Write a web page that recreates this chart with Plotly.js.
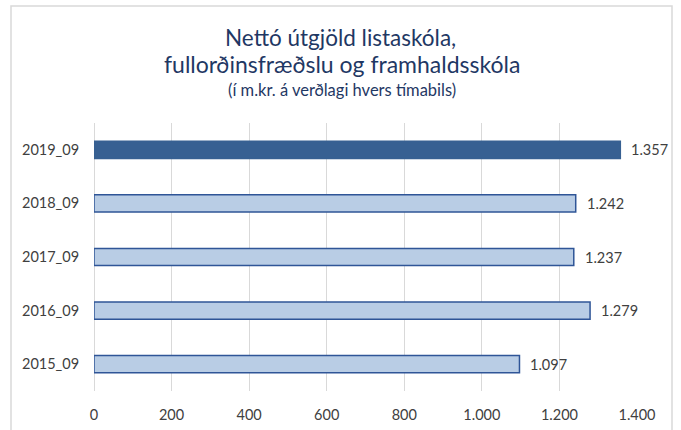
<!DOCTYPE html>
<html><head><meta charset="utf-8">
<script src="https://cdn.plot.ly/plotly-3.0.1.min.js"></script>
<style>html,body{margin:0;padding:0;background:#fff}#chart{width:681px;height:430px}</style>
</head><body><div id="chart"></div>
<script>
const categories = ["2015_09", "2016_09", "2017_09", "2018_09", "2019_09"];
const values = [1097, 1279, 1237, 1242, 1357];
const xTickVals = [0, 200, 400, 600, 800, 1000, 1200, 1400];
const titleLine1 = "Nettó útgjöld listaskóla,";
const titleLine2 = "fullorðinsfræðslu og framhaldsskóla";
const subtitle = "(í m.kr. á verðlagi hvers tímabils)";

const fills = categories.map((c, i) => i === categories.length - 1 ? "#376092" : "#b9cde5");
const lines = categories.map((c, i) => i === categories.length - 1 ? "#376092" : "#2f5597");

const L = 94, R = 44, T = 123, B = 39, W = 681, H = 430;
const pw = W - L - R, ph = H - T - B;
const px = x => (x - L) / pw;
const py = y => (H - B - y) / ph;
const font = "Lato, 'Open Sans', sans-serif";
const fmt = v => v.toLocaleString("de-DE");

const labelAnn = categories.map((c, i) => ({
  x: values[i], y: c, xref: "x", yref: "y", text: fmt(values[i]), showarrow: false,
  xanchor: "left", yanchor: "middle", xshift: 9,
  font: {family: font, size: 14.5, color: "#404040"}
}));

Plotly.newPlot("chart", [{
  type: "bar", orientation: "h",
  y: categories, x: values,
  marker: {color: fills, line: {color: lines, width: 1.5}},
  width: 0.32, hoverinfo: "none"
}], {
  width: W, height: H,
  margin: {l: L, r: R, t: T, b: B},
  separators: ",.",
  paper_bgcolor: "#fff", plot_bgcolor: "#fff",
  showlegend: false,
  font: {family: font, color: "#404040"},
  xaxis: {
    range: [0, 1400], tickvals: xTickVals, tickformat: ",.0f",
    showgrid: true, gridcolor: "#d9d9d9", gridwidth: 1,
    zeroline: true, zerolinecolor: "#d9d9d9", zerolinewidth: 1,
    showline: false, ticks: "outside", ticklen: 11, tickcolor: "rgba(0,0,0,0)",
    tickfont: {family: font, size: 14.5, color: "#404040"}, fixedrange: true
  },
  yaxis: {
    type: "category", showgrid: false, zeroline: false, showline: false,
    ticks: "outside", ticklen: 11, tickcolor: "rgba(0,0,0,0)",
    tickfont: {family: font, size: 14.5, color: "#404040"}, fixedrange: true
  },
  shapes: [{
    type: "rect", xref: "paper", yref: "paper",
    x0: px(11), x1: px(672), y0: py(440), y1: py(6),
    line: {color: "#d9d9d9", width: 1.5}, fillcolor: "rgba(0,0,0,0)", layer: "below"
  }],
  annotations: [
    {text: titleLine1, xref: "paper", yref: "paper", x: px(340), y: py(38), showarrow: false,
     xanchor: "center", yanchor: "middle", font: {family: font, size: 22.5, color: "#1f3864"}},
    {text: titleLine2, xref: "paper", yref: "paper", x: px(342), y: py(64), showarrow: false,
     xanchor: "center", yanchor: "middle", font: {family: font, size: 23, color: "#1f3864"}},
    {text: subtitle, xref: "paper", yref: "paper", x: px(342), y: py(90), showarrow: false,
     xanchor: "center", yanchor: "middle", font: {family: font, size: 16.5, color: "#1f3864"}}
  ].concat(labelAnn)
}, {displayModeBar: false, staticPlot: true});
</script></body></html>
